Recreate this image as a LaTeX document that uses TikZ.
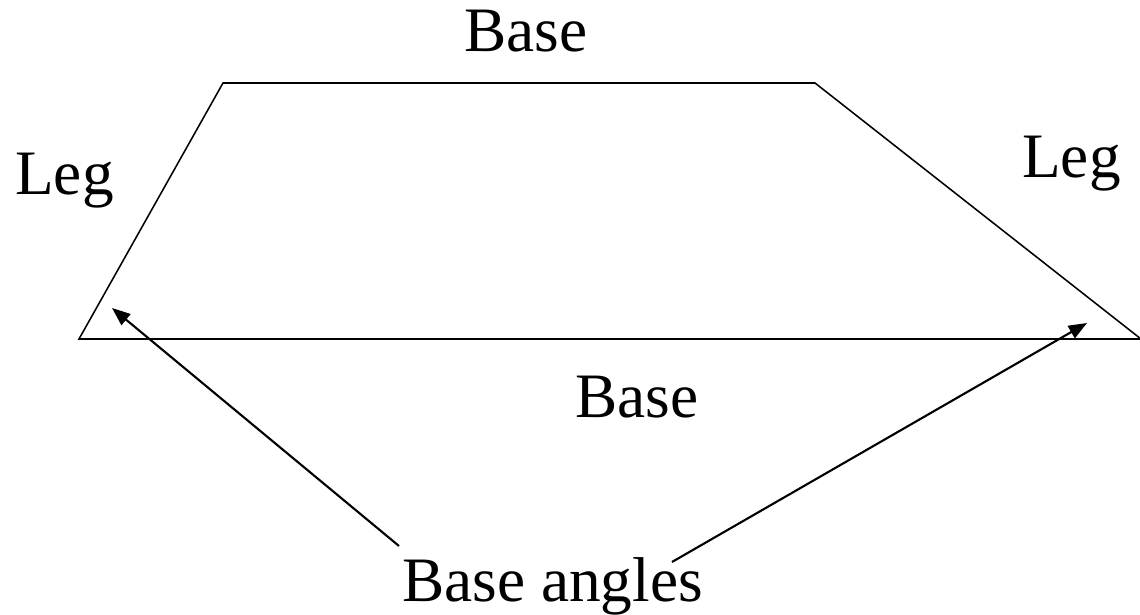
\documentclass[tikz,border=0pt]{standalone}
\usepackage{fontspec}
\setmainfont{Liberation Serif}
\usetikzlibrary{arrows.meta,positioning}

\begin{document}
\begin{tikzpicture}[x=0.025cm,y=-0.025cm,
    every node/.style={font=\fontsize{45}{54}\selectfont,inner sep=0pt,anchor=base west},
    side/.style={line width=1.1pt,black,line join=miter},
    arr/.style={-{Triangle[length=13pt,width=10pt]},line width=1.5pt,black}]
  \useasboundingbox (0,0) rectangle (1140,615);

  %% Trapezoid corners
  \coordinate (tl) at (223,83);
  \coordinate (tr) at (815,83);
  \coordinate (br) at (1141,339);
  \coordinate (bl) at (79,339);
  \draw[side] (bl) -- (tl) -- (tr) -- (br) -- cycle;

  %% Labels
  \node (topbase) at (464,52)  {Base};
  \node (legl)    at (15,195)  {Leg};
  \node (legr)    at (1022,178) {Leg};
  \node (botbase) at (575,418) {Base};
  \node (angles)  at (402,602) {Base angles};

  %% Arrows to the base angles
  \coordinate (tailL) at (399,546);
  \coordinate (tailR) at (672,562);
  \coordinate (tipL)  at (112,308);
  \coordinate (tipR)  at (1087,323);
  \draw[arr] (tailL) -- (tipL);
  \draw[arr] (tailR) -- (tipR);
\end{tikzpicture}
\end{document}
